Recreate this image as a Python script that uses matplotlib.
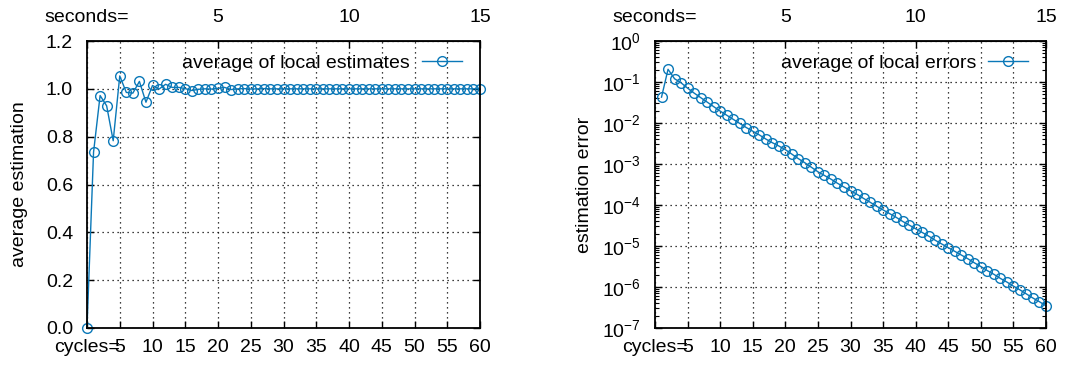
import numpy as np
import matplotlib
matplotlib.use('Agg')
import matplotlib.pyplot as plt
from matplotlib.ticker import LogLocator, NullFormatter

plt.rcParams['font.family'] = ['Liberation Sans', 'DejaVu Sans']
plt.rcParams['font.size'] = 14
plt.rcParams['mathtext.default'] = 'regular'

# datos
ciclos_est = np.arange(0, 61)
promedio_estimado = [
    0.000, 0.735, 0.972, 0.929, 0.783, 1.054, 0.985, 0.982, 1.031, 0.944,
    1.014, 0.999, 1.019, 1.006, 1.006, 1.001, 0.993, 0.998, 1.000, 0.999,
    1.002, 1.006, 0.997, 1.000, 1.001, 0.999, 1.000, 1.001, 1.000, 1.000,
    1.000, 1.000, 1.000, 1.000, 1.000, 1.000, 1.000, 1.000, 1.000, 1.000,
    1.000, 1.000, 1.000, 1.000, 1.000, 1.000, 1.000, 1.000, 1.000, 1.000,
    1.000, 1.000, 1.000, 1.000, 1.000, 1.000, 1.000, 1.000, 1.000, 1.000,
    1.000,
]

ciclos_err = np.arange(1, 61)
promedio_error = [
    4.27e-2, 2.04e-1, 1.20e-1, 9.55e-2, 7.08e-2, 5.37e-2, 4.17e-2, 3.24e-2, 2.51e-2, 1.95e-2,
    1.55e-2, 1.23e-2, 9.77e-3, 7.76e-3, 6.31e-3, 5.13e-3, 4.07e-3, 3.31e-3, 2.75e-3, 2.24e-3,
    1.74e-3, 1.35e-3, 1.07e-3, 8.32e-4, 6.46e-4, 5.25e-4, 4.27e-4, 3.39e-4, 2.75e-4, 2.24e-4,
    1.82e-4, 1.45e-4, 1.17e-4, 9.33e-5, 7.59e-5, 6.17e-5, 5.01e-5, 3.98e-5, 3.24e-5, 2.63e-5,
    2.14e-5, 1.74e-5, 1.38e-5, 1.12e-5, 9.12e-6, 7.41e-6, 6.03e-6, 4.90e-6, 3.89e-6, 3.16e-6,
    2.51e-6, 2.04e-6, 1.62e-6, 1.32e-6, 1.05e-6, 8.51e-7, 6.76e-7, 5.37e-7, 4.37e-7, 3.47e-7,
]

ticks_ciclos = [0, 5, 10, 15, 20, 25, 30, 35, 40, 45, 50, 55, 60]
etiquetas_ciclos = ['cycles='] + [str(t) for t in ticks_ciclos[1:]]
ticks_segundos = [0, 5, 10, 15]
etiquetas_segundos = ['seconds=', '5', '10', '15']

azul = '#0a78b8'
grid_kw = dict(color='black', linestyle=(0, (1, 3)), linewidth=0.9)

fig = plt.figure(figsize=(10.75, 3.7), dpi=100)
ax1 = fig.add_axes([87 / 1075, 42 / 370, 393 / 1075, 287 / 370])
ax2 = fig.add_axes([655 / 1075, 42 / 370, 391 / 1075, 287 / 370])


def preparar_eje(ax):
    ax.set_xlim(0, 60)
    ax.set_xticks(ticks_ciclos)
    ax.set_xticklabels(etiquetas_ciclos)
    ax.tick_params(axis='x', direction='in', top=False, length=5, width=1, pad=8)
    ax.tick_params(axis='y', direction='in', right=True, length=5, width=1, pad=10)
    ax.tick_params(axis='y', which='minor', direction='in', right=True, length=3, width=0.8)
    for s in ax.spines.values():
        s.set_linewidth(1.3)
    ax.grid(True, **grid_kw)
    ax.set_axisbelow(True)
    sec = ax.secondary_xaxis('top', functions=(lambda c: c / 4, lambda s: s * 4))
    sec.set_xticks(ticks_segundos)
    sec.set_xticklabels(etiquetas_segundos)
    sec.tick_params(direction='in', length=5, width=1, pad=11)
    return sec


# grafica izquierda: promedio de estimaciones
preparar_eje(ax1)
ax1.plot(ciclos_est, promedio_estimado, color=azul, linewidth=1, marker='o',
         markersize=7, markerfacecolor='none', markeredgewidth=1,
         label='average of local estimates', clip_on=False)
ax1.set_ylim(0, 1.2)
ax1.set_yticks([0, 0.2, 0.4, 0.6, 0.8, 1.0, 1.2])
ax1.set_yticklabels(['0.0', '0.2', '0.4', '0.6', '0.8', '1.0', '1.2'])
ax1.set_ylabel('average estimation')
ax1.yaxis.set_label_coords(-0.15, 0.5)
ax1.legend(loc='upper right', bbox_to_anchor=(0.985, 0.995), frameon=False,
           markerfirst=False, handlelength=2.1, handletextpad=0.6, borderaxespad=0.2)

# grafica derecha: error de estimacion
preparar_eje(ax2)
ax2.set_yscale('log')
ax2.plot(ciclos_err, promedio_error, color=azul, linewidth=1, marker='o',
         markersize=7, markerfacecolor='none', markeredgewidth=1,
         label='average of local errors', clip_on=False)
ax2.set_ylim(1e-7, 1)
ax2.yaxis.set_major_locator(LogLocator(base=10, numticks=20))
ax2.yaxis.set_minor_locator(LogLocator(base=10, subs=np.arange(2, 10), numticks=20))
ax2.yaxis.set_minor_formatter(NullFormatter())
ax2.grid(True, which='major', **grid_kw)
ax2.set_ylabel('estimation error')
ax2.yaxis.set_label_coords(-0.159, 0.5)
ax2.legend(loc='upper right', bbox_to_anchor=(0.985, 0.995), frameon=False,
           markerfirst=False, handlelength=2.1, handletextpad=0.6, borderaxespad=0.2)

plt.savefig('out.png', dpi=100)
